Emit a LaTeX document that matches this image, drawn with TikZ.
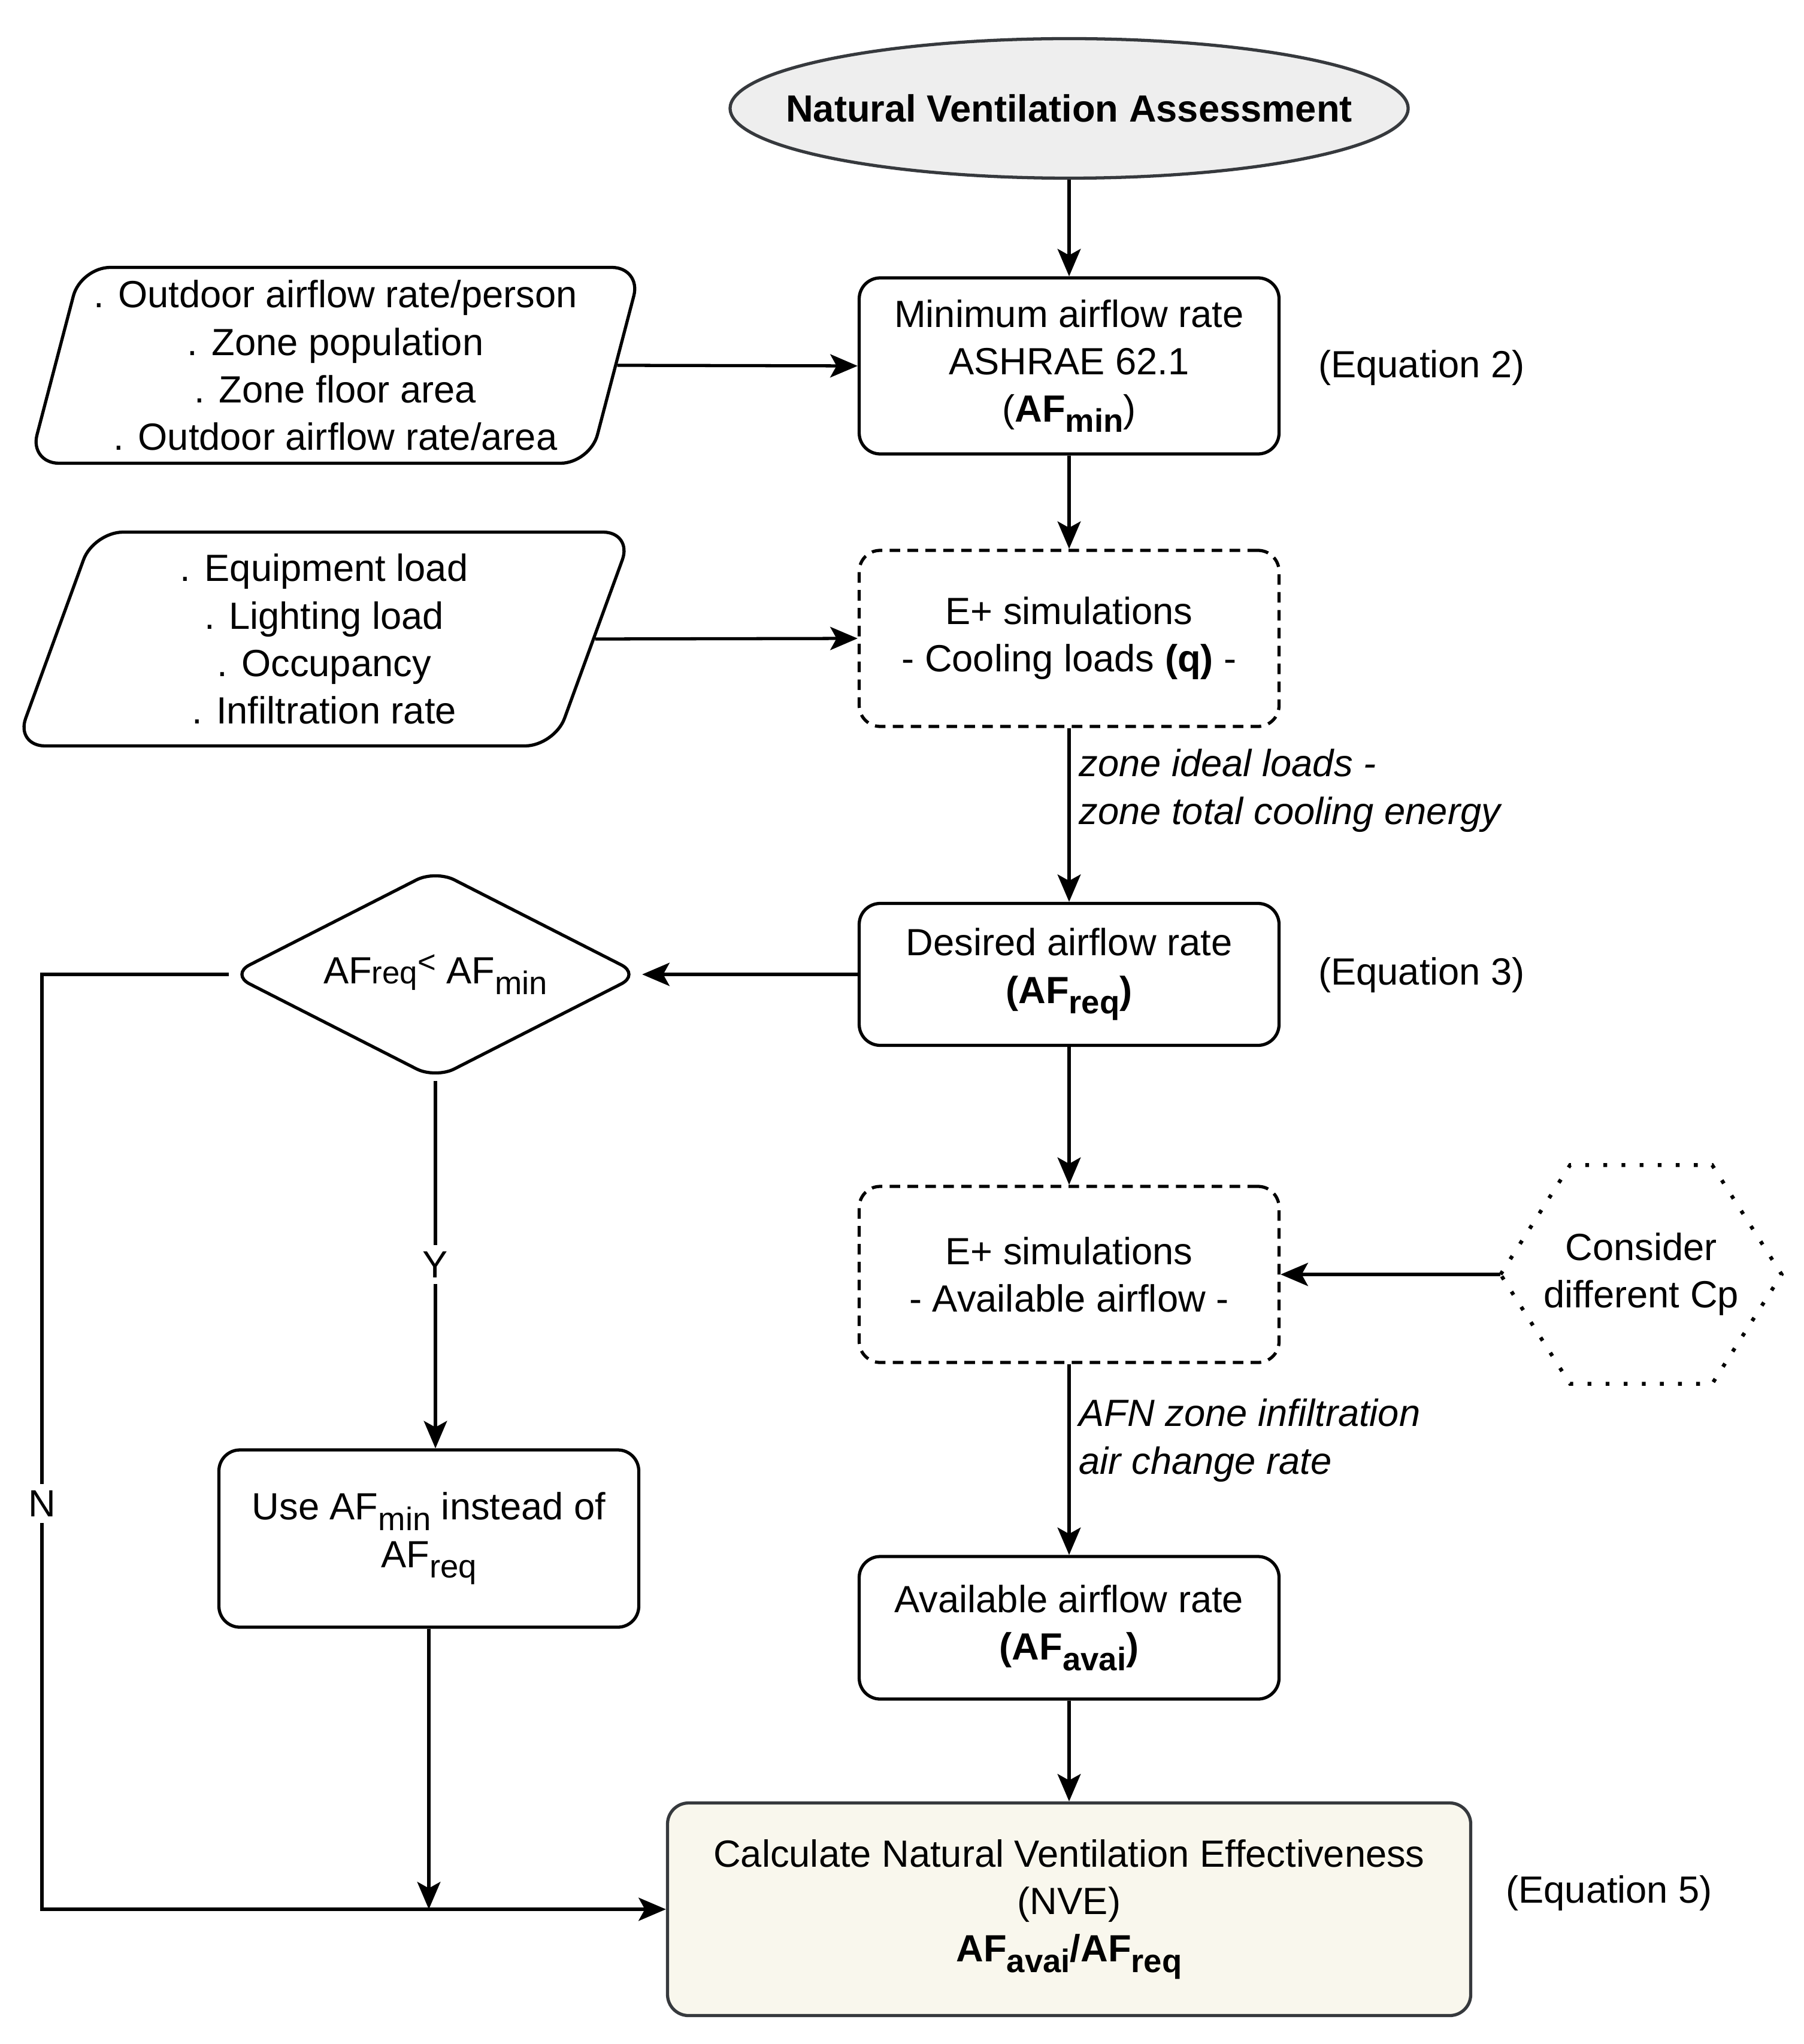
\documentclass[tikz,border=0pt]{standalone}
\usepackage{fontspec}
\setmainfont{Liberation Sans}
\usetikzlibrary{arrows.meta,positioning,shapes.geometric,calc}

\definecolor{edgegray}{HTML}{36393D}
\definecolor{startfill}{HTML}{EEEEEE}
\definecolor{endfill}{HTML}{F9F7ED}

\newcommand{\dn}[1]{\raisebox{-5pt}{\fontsize{15.5}{15.5}\selectfont #1}}

\begin{document}
\begin{tikzpicture}[
  font=\fontsize{18}{22.5}\selectfont,
  >={Stealth[length=13pt,width=11pt,inset=3pt]},
  line width=1.5pt,
  startnode/.style={draw=edgegray, fill=startfill, ellipse, minimum width=11.32cm, minimum height=2.33cm, inner sep=0pt, font=\fontsize{18}{22.5}\selectfont\bfseries},
  procbox/.style={draw, rounded corners=10pt, align=center, minimum width=7.01cm, minimum height=2.94cm, inner sep=3pt},
  simbox/.style={procbox, dash pattern=on 5pt off 3.5pt},
  endbox/.style={procbox, draw=edgegray, fill=endfill, minimum width=13.41cm, minimum height=3.55cm},
  inputbox/.style={draw, trapezium, trapezium left angle=74, trapezium right angle=106, trapezium stretches=true, rounded corners=14pt, align=center, inner sep=0pt},
  checknode/.style={draw, diamond, aspect=1.96, rounded corners=10pt, minimum width=6.85cm, minimum height=3.50cm, inner sep=0pt},
  eqlbl/.style={anchor=west},
  flowlbl/.style={right, align=left, inner sep=4pt, font=\fontsize{18}{22.5}\selectfont\itshape},
  branchlbl/.style={fill=white, inner sep=3pt}
]
\useasboundingbox (0,0) rectangle (30.11,-34.13);

% main column
\node[startnode] (start) at (17.85,-1.81) {\makebox[0pt]{Natural Ventilation Assessment}};
\node[procbox] (minaf) at (17.85,-6.11) {Minimum airflow rate\\ASHRAE 62.1\\(\textbf{AF\dn{\bfseries min}})};
\node[simbox] (coolsim) at (17.85,-10.66) {E+ simulations\\- Cooling loads \textbf{(q)} -};
\node[procbox, minimum height=2.37cm] (reqaf) at (17.85,-16.27) {Desired airflow rate\\\textbf{(AF\dn{\bfseries req})}};
\node[simbox] (availsim) at (17.85,-21.28) {E+ simulations\\- Available airflow -};
\node[procbox, minimum height=2.38cm] (availaf) at (17.85,-27.18) {Available airflow rate\\\textbf{(AF\dn{\bfseries avai})}};
\node[endbox] (nve) at (17.85,-31.88) {Calculate Natural Ventilation Effectiveness\\(NVE)\\\textbf{AF\dn{\bfseries avai}/AF\dn{\bfseries req}}};

% inputs
\node[inputbox, minimum width=10.23cm, minimum height=3.27cm] (occin) at (5.60,-6.10) {. Outdoor airflow rate/person\\. Zone population\\. Zone floor area\\. Outdoor airflow rate/area};
\node[inputbox, minimum width=10.30cm, minimum height=3.57cm] (loadin) at (5.41,-10.67) {. Equipment load\\. Lighting load\\. Occupancy\\. Infiltration rate};

% decision branch
\node[checknode] (check) at (7.27,-16.27) {AF{\fontsize{15}{15}\selectfont req}\raisebox{0.55ex}{\fontsize{15}{15}\selectfont <} AF\dn{min}};
\node[procbox, minimum height=2.96cm] (useminaf) at (7.16,-25.69) {Use AF\dn{min} instead of\\AF\dn{req}};
\coordinate (nturn) at (0.70,-31.88);

% Cp variation
\node[minimum width=4.64cm, minimum height=3.60cm, align=center, inner sep=0pt] (cpvar) at (27.40,-21.28) {Consider\\different Cp};
\draw[dash pattern=on 1.8pt off 6.8pt, line width=1.8pt]
  (cpvar.west) -- ($(cpvar.north west)+(1.16,0)$) -- ($(cpvar.north east)+(-1.16,0)$)
  -- (cpvar.east) -- ($(cpvar.south east)+(-1.16,0)$) -- ($(cpvar.south west)+(1.16,0)$) -- cycle;

% equation refs
\node[eqlbl] (eq2) at (21.87,-6.14) {(Equation 2)};
\node[eqlbl] (eq3) at (21.87,-16.28) {(Equation 3)};
\node[eqlbl] (eq5) at (25.00,-31.61) {(Equation 5)};

% connectors
\draw[->] (start) -- (minaf);
\draw[->] (occin.east) -- (minaf.west);
\draw[->] (minaf) -- (coolsim);
\draw[->] (loadin.east) -- (coolsim.west);
\draw[->] (coolsim) -- node[flowlbl, pos=0.36] {zone ideal loads -\\zone total cooling energy} (reqaf);
\draw[->] (reqaf.west) -- (check.east);
\draw[->] (reqaf) -- (availsim);
\draw[->] (cpvar.west) -- (availsim.east);
\draw[->] (availsim) -- node[flowlbl, pos=0.40] {AFN zone infiltration\\air change rate} (availaf);
\draw[->] (availaf) -- (nve);
\draw[->] (check.south) -- node[branchlbl] {Y} (check.south |- useminaf.north);
\draw[->] (useminaf.south) -- (useminaf.south |- nve.west);
\draw[->] (check.west) -| node[branchlbl, pos=0.783] {N} (nturn) -- (nve.west);
\end{tikzpicture}
\end{document}
